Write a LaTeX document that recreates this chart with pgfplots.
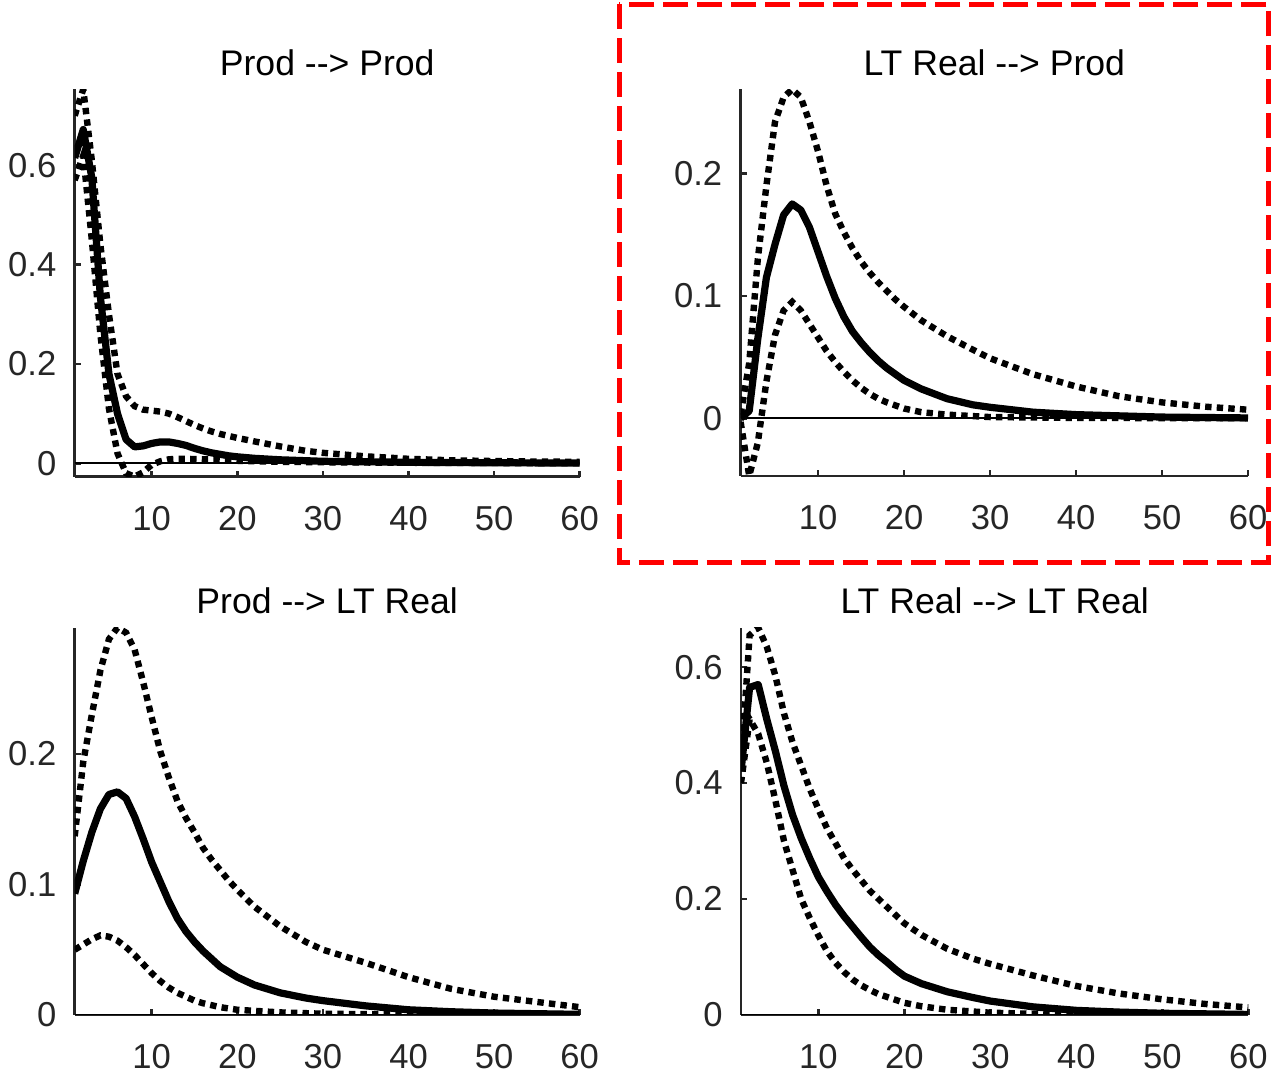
\documentclass[border=0pt]{standalone}
\usepackage{fontspec}
\setmainfont{Liberation Sans}
\usepackage{pgfplots}
\pgfplotsset{compat=1.18}
\definecolor{axgray}{HTML}{262626}
\pgfplotsset{
  irf/.style={
    scale only axis,
    xmin=1, xmax=60,
    axis x line*=bottom, axis y line*=left,
    axis line style={axgray, line width=1.3pt, -},
    x axis line style={-}, y axis line style={-},
    tick style={axgray, line width=1.3pt},
    tick align=inside, major tick length=3pt,
    xtick={10,20,30,40,50,60},
    ticklabel style={font=\fontsize{17.3}{20}\selectfont, text=axgray, inner sep=0pt},
    xticklabel style={yshift=-14.6pt},
    yticklabel style={xshift=-9pt},
    /pgf/number format/assume math mode=true,
    /pgf/number format/fixed,
    title style={at={(0.5,1)}, anchor=base, yshift=0.9pt, font=\fontsize{17.8}{20}\selectfont, text=black},
  },
  med/.style={black, line width=3.6pt, line join=round},
  band/.style={black, line width=3.2pt, dash pattern=on 3.2pt off 2.6pt},
  zero/.style={black, line width=1pt},
}
\begin{document}
\begin{tikzpicture}
\path[use as bounding box] (0,0) rectangle (636pt,537pt);

% ---------------- Top left ----------------
\begin{axis}[irf, at={(37.35pt,298.65pt)}, anchor=south west,
  width=252.5pt, height=193.7pt, ymin=-0.027, ymax=0.753,
  ytick={0,0.2,0.4,0.6}, title={Prod -{}-{}> Prod}]
\addplot[zero] coordinates {(1,0) (60,0)};
\addplot[med] coordinates {(1,0.615) (2,0.672) (3,0.575) (4,0.335) (5,0.18) (6,0.10) (7,0.048) (8,0.033) (9,0.035) (10,0.040) (11,0.043) (12,0.043) (13,0.040) (14,0.036) (15,0.030) (16,0.025) (17,0.021) (18,0.018) (19,0.015) (20,0.013) (22,0.010) (25,0.007) (30,0.004) (35,0.003) (40,0.002) (50,0.001) (60,0.0005)};
\addplot[band] coordinates {(1,0.70) (2,0.753) (3,0.61) (4,0.44) (5,0.30) (6,0.18) (7,0.135) (8,0.115) (9,0.108) (10,0.106) (11,0.104) (12,0.100) (13,0.093) (14,0.085) (15,0.077) (16,0.070) (17,0.064) (18,0.059) (19,0.055) (20,0.051) (22,0.044) (25,0.034) (28,0.025) (30,0.021) (35,0.014) (40,0.009) (45,0.006) (50,0.0045) (55,0.0035) (60,0.003)};
\addplot[band] coordinates {(1,0.57) (2,0.62) (3,0.45) (4,0.26) (5,0.11) (6,0.02) (7,-0.02) (8,-0.027) (9,-0.018) (10,-0.003) (11,0.004) (12,0.008) (13,0.009) (14,0.009) (16,0.008) (18,0.007) (20,0.005) (25,0.003) (30,0.002) (40,0.001) (50,0.0005) (60,0)};
\end{axis}

% ---------------- Top right ----------------
\begin{axis}[irf, at={(370.3pt,299pt)}, anchor=south west,
  width=253.7pt, height=193.35pt, ymin=-0.0471, ymax=0.2686,
  ytick={0,0.1,0.2}, title={LT Real -{}-{}> Prod}]
\addplot[zero] coordinates {(1,0) (60,0)};
\addplot[med] coordinates {(1,0.0) (2,0.006) (3,0.065) (4,0.115) (5,0.142) (6,0.166) (7,0.175) (8,0.17) (9,0.156) (10,0.136) (11,0.116) (12,0.098) (13,0.083) (14,0.071) (15,0.062) (16,0.054) (17,0.047) (18,0.041) (19,0.036) (20,0.031) (22,0.024) (25,0.016) (28,0.011) (30,0.009) (35,0.005) (40,0.003) (45,0.002) (50,0.001) (60,0.0003)};
\addplot[band] coordinates {(1,0.003) (2,0.045) (3,0.13) (4,0.19) (5,0.242) (6,0.262) (7,0.2686) (8,0.262) (9,0.242) (10,0.218) (11,0.19) (12,0.167) (13,0.152) (14,0.139) (15,0.128) (16,0.119) (17,0.111) (18,0.104) (19,0.097) (20,0.091) (22,0.08) (25,0.067) (28,0.056) (30,0.049) (35,0.036) (40,0.026) (45,0.018) (50,0.013) (55,0.0095) (60,0.007)};
\addplot[band] coordinates {(1,-0.003) (2,-0.047) (3,-0.02) (4,0.03) (5,0.068) (6,0.088) (7,0.095) (8,0.088) (9,0.077) (10,0.066) (11,0.055) (12,0.046) (13,0.038) (14,0.031) (15,0.025) (16,0.02) (17,0.016) (18,0.013) (20,0.008) (22,0.005) (25,0.003) (30,0.001) (40,0.0003) (60,0)};
\end{axis}

% ---------------- Bottom left ----------------
\begin{axis}[irf, at={(37.35pt,29.5pt)}, anchor=south west,
  width=252.5pt, height=193.65pt, ymin=0, ymax=0.2968,
  ytick={0,0.1,0.2}, title={Prod -{}-{}> LT Real}]
\addplot[zero] coordinates {(1,0) (60,0)};
\addplot[med] coordinates {(1,0.093) (2,0.118) (3,0.14) (4,0.158) (5,0.169) (6,0.171) (7,0.166) (8,0.152) (9,0.135) (10,0.117) (11,0.102) (12,0.087) (13,0.074) (14,0.064) (15,0.056) (16,0.049) (17,0.043) (18,0.037) (19,0.033) (20,0.029) (22,0.023) (25,0.017) (28,0.013) (30,0.011) (35,0.007) (40,0.004) (45,0.0025) (50,0.0015) (60,0.0005)};
\addplot[band] coordinates {(1,0.137) (2,0.194) (3,0.23) (4,0.264) (5,0.288) (6,0.2968) (7,0.293) (8,0.28) (9,0.255) (10,0.228) (11,0.202) (12,0.182) (13,0.164) (14,0.151) (15,0.14) (16,0.128) (17,0.119) (18,0.111) (19,0.103) (20,0.096) (22,0.083) (25,0.068) (28,0.056) (30,0.050) (35,0.040) (40,0.029) (45,0.020) (50,0.014) (55,0.010) (60,0.006)};
\addplot[band] coordinates {(1,0.05) (2,0.054) (3,0.058) (4,0.061) (5,0.06) (6,0.057) (7,0.052) (8,0.046) (9,0.039) (10,0.032) (11,0.026) (12,0.021) (13,0.017) (14,0.014) (15,0.011) (16,0.009) (18,0.006) (20,0.004) (25,0.002) (30,0.001) (40,0.0003) (60,0)};
\end{axis}

% ---------------- Bottom right ----------------
\begin{axis}[irf, at={(370.5pt,29.5pt)}, anchor=south west,
  width=253.7pt, height=193.65pt, ymin=0, ymax=0.668,
  ytick={0,0.2,0.4,0.6}, title={LT Real -{}-{}> LT Real}]
\addplot[zero] coordinates {(1,0) (60,0)};
\addplot[med] coordinates {(1,0.42) (2,0.565) (3,0.57) (4,0.51) (5,0.455) (6,0.395) (7,0.345) (8,0.305) (9,0.27) (10,0.238) (11,0.213) (12,0.19) (13,0.17) (14,0.152) (15,0.134) (16,0.117) (17,0.103) (18,0.091) (19,0.078) (20,0.067) (22,0.054) (25,0.04) (28,0.03) (30,0.024) (35,0.014) (40,0.008) (45,0.005) (50,0.003) (55,0.002) (60,0.001)};
\addplot[band] coordinates {(1,0.43) (2,0.655) (3,0.668) (4,0.635) (5,0.585) (6,0.52) (7,0.47) (8,0.43) (9,0.39) (10,0.355) (11,0.322) (12,0.296) (13,0.27) (14,0.25) (15,0.232) (16,0.214) (17,0.2) (18,0.186) (19,0.172) (20,0.158) (22,0.138) (25,0.114) (28,0.097) (30,0.088) (35,0.068) (40,0.05) (45,0.037) (50,0.027) (55,0.019) (60,0.013)};
\addplot[band] coordinates {(1,0.40) (2,0.51) (3,0.485) (4,0.435) (5,0.37) (6,0.30) (7,0.25) (8,0.20) (9,0.167) (10,0.137) (11,0.11) (12,0.09) (13,0.074) (14,0.061) (15,0.051) (16,0.043) (17,0.036) (18,0.031) (20,0.021) (22,0.015) (25,0.009) (30,0.004) (35,0.002) (40,0.001) (50,0.0003) (60,0)};
\end{axis}

% red dashed highlight box
\draw[red, line width=2.5pt, dash pattern=on 12.5pt off 4.5pt] (309.6pt,534.8pt) rectangle (634.25pt,255.65pt);
\end{tikzpicture}
\end{document}
